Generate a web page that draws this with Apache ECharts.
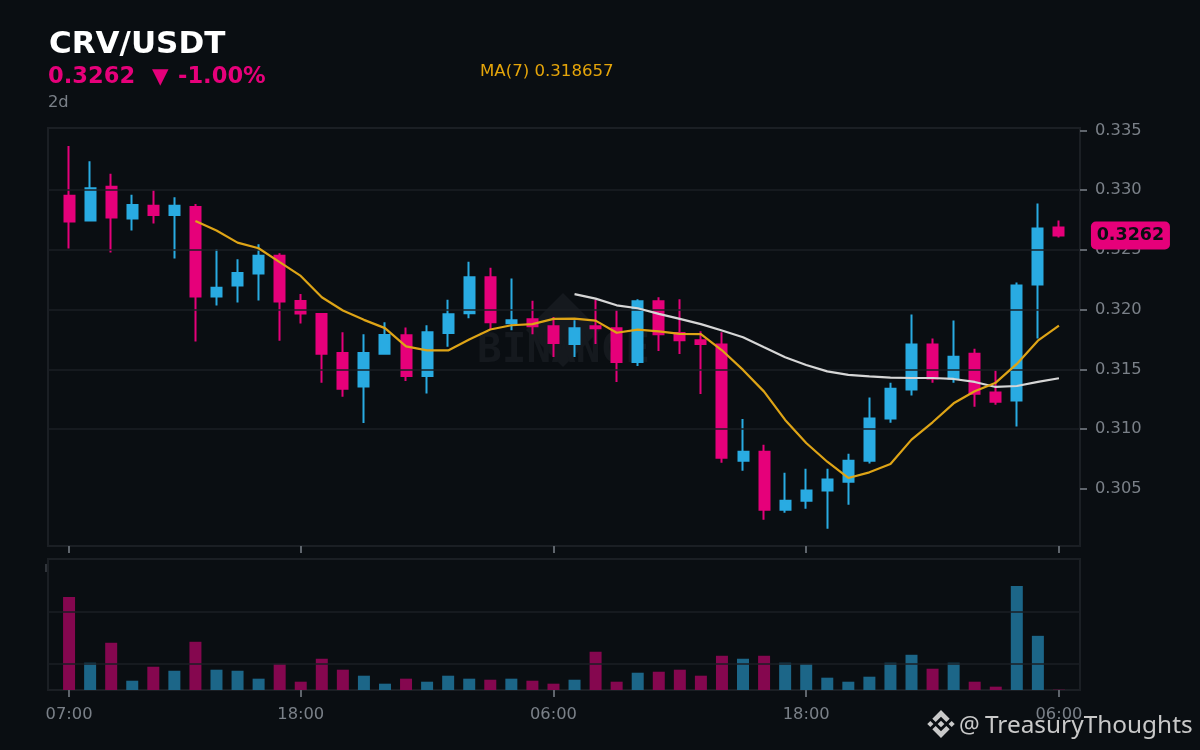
<!DOCTYPE html>
<html>
<head>
<meta charset="utf-8">
<style>html,body{margin:0;padding:0;background:#0a0e12}#c{width:1200px;height:750px}</style>
<script src="https://cdn.jsdelivr.net/npm/echarts@6/dist/echarts.min.js"></script>
</head>
<body>
<div id="c"></div>
<script>
const opens  = [.32953,.32746,.33028,.32763,.32869,.32793,.3286,.32109,.32201,.32302,.3245,.32073,.31964,.31637,.31355,.31631,.31786,.31444,.31803,.31969,.3227,.31886,.31919,.31861,.31711,.31861,.31844,.31561,.3207,.31803,.31744,.31707,.30735,.3081,.30324,.304,.30484,.30559,.30735,.31087,.3133,.31707,.31422,.31631,.31305,.31238,.3221,.32687];
const closes = [.32737,.33017,.32771,.32877,.32793,.32869,.32109,.32182,.32307,.3245,.32067,.31967,.31631,.31338,.31637,.31788,.31444,.31811,.31961,.3227,.31894,.31911,.31861,.3172,.31844,.31844,.31561,.3207,.31794,.31744,.31711,.3076,.3081,.30324,.304,.30484,.30576,.30735,.31087,.31338,.31707,.31422,.31606,.31296,.31229,.32201,.32679,.3262];
const highs  = [.33371,.33243,.33137,.32961,.33,.32941,.32885,.32506,.32422,.32548,.32472,.32131,.31969,.3181,.31793,.31894,.3185,.31869,.32083,.324,.3235,.32261,.32075,.31939,.31911,.32083,.31994,.32086,.32103,.32086,.31819,.3181,.31084,.30869,.30634,.30668,.30668,.30793,.31263,.31388,.31958,.31757,.31908,.31673,.31489,.32226,.32888,.32746];
const lows   = [.32511,.32737,.32478,.32662,.32721,.32427,.31732,.32034,.32059,.32076,.3174,.31883,.31388,.31271,.3105,.31623,.31403,.31297,.31689,.31928,.31833,.31828,.31794,.31603,.31603,.31711,.31394,.31528,.31653,.31628,.31294,.30718,.30651,.3024,.30299,.30333,.30165,.30366,.3071,.31053,.3128,.31388,.31388,.31187,.31204,.3102,.31757,.32603];
const ma7 = [null,null,null,null,null,null,.32743,.32662,.32561,.32514,.32397,.32282,.32103,.31992,.31914,.31845,.31692,.31658,.31658,.3175,.31833,.31869,.31878,.31922,.31925,.31908,.31806,.31833,.31817,.31797,.31794,.31659,.31495,.31313,.31076,.30883,.30726,.3059,.30637,.30707,.30911,.31056,.31215,.31316,.31388,.31545,.3174,.318657];
const ma25 = [null,null,null,null,null,null,null,null,null,null,null,null,null,null,null,null,null,null,null,null,null,null,null,null,.3213,.32092,.32036,.32011,.31964,.31922,.31878,.31825,.31768,.31684,.31601,.31536,.31483,.31453,.31441,.3143,.31427,.31427,.31419,.31394,.31352,.3136,.31394,.31425];
const volumes = [1784,522,905,178,446,369,924,389,369,217,503,159,599,389,274,121,217,159,274,217,197,217,178,121,197,733,159,331,350,389,274,656,599,656,522,503,236,159,255,522,675,408,522,159,64,1994,1038,6];
const hours = ['07:00','08:00','09:00','10:00','11:00','12:00','13:00','14:00','15:00','16:00','17:00','18:00','19:00','20:00','21:00','22:00','23:00','00:00','01:00','02:00','03:00','04:00','05:00','06:00','07:00','08:00','09:00','10:00','11:00','12:00','13:00','14:00','15:00','16:00','17:00','18:00','19:00','20:00','21:00','22:00','23:00','00:00','01:00','02:00','03:00','04:00','05:00','06:00'];
const shownTicks = [0,11,23,35,47];
const volumeGridLines = [500,1500];
const priceTicks = [0.305,0.31,0.315,0.32,0.325,0.33,0.335];
const lastPrice = 0.3262;
const ma7Last = '0.318657';

const PINK='#e6007a', BLUE='#29abe2', VPINK='#85074f', VBLUE='#1c6688';
const BG='#0a0e12', GRID='#1b1f24', TICK='#5f656c', LABEL='#7a8088';

// one empty slot either side, so that the first and last candle sit a full step inside the frame
const cats = ['', ...hours, ''];
const pad = a => [null, ...a, null];
const candle = ['-', ...opens.map((o,i)=>[o,closes[i],lows[i],highs[i]]), '-'];
const vols = [null, ...volumes.map((v,i)=>({value:v,itemStyle:{color:closes[i]<opens[i]?VPINK:VBLUE}})), null];
const showIdx = (i)=>shownTicks.includes(i-1);

const chart = echarts.init(document.getElementById('c'), null, {width:1200,height:750});
const FONT='"DejaVu Sans"';

function txt(x,y,text,size,color,weight,family,z){
  return {type:'text',x,y,z:z||20,silent:true,style:{text,fill:color,font:(weight||'normal')+' '+size+'px '+(family||FONT),textVerticalAlign:'middle',textBaseline:'middle'}};
}
function poly(points,fill,z){return {type:'polygon',z:z,silent:true,shape:{points},style:{fill}};}
function logo(cx,cy,s,fill,z){
  const d=(x,y,r)=>poly([[cx+x,cy+y-r],[cx+x+r,cy+y],[cx+x,cy+y+r],[cx+x-r,cy+y]],fill,z);
  const chevTop=poly([[cx,cy-s],[cx+.62*s,cy-.38*s],[cx+.38*s,cy-.14*s],[cx,cy-.52*s],[cx-.38*s,cy-.14*s],[cx-.62*s,cy-.38*s]],fill,z);
  const chevBot=poly([[cx,cy+s],[cx+.62*s,cy+.38*s],[cx+.38*s,cy+.14*s],[cx,cy+.52*s],[cx-.38*s,cy+.14*s],[cx-.62*s,cy+.38*s]],fill,z);
  return [d(0,0,.24*s),d(-.76*s,0,.22*s),d(.76*s,0,.22*s),chevTop,chevBot];
}

chart.setOption({
  backgroundColor:BG,
  animation:false,
  grid:[
    {left:48,top:128,width:1032,height:418,show:true,borderColor:GRID,borderWidth:2,backgroundColor:'transparent'},
    {left:48,top:559,width:1032,height:131,show:true,borderColor:GRID,borderWidth:2,backgroundColor:'transparent'}
  ],
  xAxis:[
    {type:'category',gridIndex:0,data:cats,boundaryGap:false,axisLine:{show:false},
     axisTick:{show:true,length:7,interval:(i)=>showIdx(i),lineStyle:{color:TICK,width:2}},axisLabel:{show:false},splitLine:{show:false}},
    {type:'category',gridIndex:1,data:cats,boundaryGap:false,axisLine:{show:false},
     axisTick:{show:true,length:7,interval:(i)=>showIdx(i),lineStyle:{color:TICK,width:2}},
     axisLabel:{show:true,interval:(i)=>showIdx(i),color:LABEL,fontSize:16.3,fontFamily:FONT,margin:17},splitLine:{show:false}}
  ],
  yAxis:[
    {type:'value',gridIndex:0,position:'right',scale:true,min:0.3002,max:0.33521,splitNumber:7,z:3,
     axisLine:{show:false},
     axisTick:{show:true,length:7,lineStyle:{color:TICK,width:2},customValues:priceTicks},
     axisLabel:{show:true,color:LABEL,fontSize:16.3,fontFamily:FONT,margin:15,padding:[4,0,0,0],customValues:priceTicks,
       formatter:(v)=>v.toFixed(3)},
     splitLine:{show:true,showMinLine:false,showMaxLine:false,lineStyle:{color:GRID,width:1.5}}},
    {type:'value',gridIndex:1,position:'right',min:0,max:2510,axisLine:{show:false},axisTick:{show:false},axisLabel:{show:false},splitLine:{show:false}}
  ],
  series:[
    {type:'candlestick',name:'CRV/USDT',xAxisIndex:0,yAxisIndex:0,z:2,data:candle,barWidth:10.5,
     itemStyle:{color:BLUE,color0:PINK,borderColor:BLUE,borderColor0:PINK,borderWidth:2}},
    {type:'line',name:'MA(7)',xAxisIndex:0,yAxisIndex:0,z:5,data:pad(ma7),showSymbol:false,smooth:false,connectNulls:false,
     lineStyle:{color:'#dea416',width:2.2},
     markPoint:{silent:true,z:8,animation:false,data:[{coord:[48,lastPrice],
       symbol:'path://M5,0H74a5,5 0 0 1 5,5V23a5,5 0 0 1 -5,5H5a5,5 0 0 1 -5,-5V5a5,5 0 0 1 5,-5z',
       symbolKeepAspect:false,symbolSize:[79,28],symbolOffset:[71.5,0],
       itemStyle:{color:PINK},
       label:{show:true,position:'inside',formatter:String(lastPrice),color:'#0a0e12',fontWeight:'bold',fontSize:17.5,fontFamily:FONT}}]}},
    {type:'line',name:'MA(25)',xAxisIndex:0,yAxisIndex:0,z:4,data:pad(ma25),showSymbol:false,smooth:false,
     lineStyle:{color:'#d6d6d6',width:2.2}},
    {type:'bar',name:'Volume',xAxisIndex:1,yAxisIndex:1,z:2,data:vols,barWidth:12,
     markLine:{silent:true,symbol:'none',animation:false,label:{show:false},lineStyle:{color:GRID,width:1.5,type:'solid'},
       data:volumeGridLines.map(v=>({yAxis:v}))}}
  ],
  graphic:{elements:[
    poly([[563,293],[600,330],[563,367],[526,330]],'#15191e',-1),
    {type:'text',x:563.5,y:351,z:-1,silent:true,style:{text:'BINANCE',fill:'#15191e',font:'bold 41px "DejaVu Sans Mono"',textAlign:'center',textVerticalAlign:'middle',textBaseline:'middle'}},
    txt(49,45,'CRV/USDT',31,'#ffffff','bold'),
    txt(48,77,'0.3262',22.6,PINK,'bold'),
    txt(152,77,'▼',21.5,PINK,'bold'),
    txt(178,77,'-1.00%',22.6,PINK,'bold'),
    txt(48,103,'2d',16.3,LABEL),
    txt(480,72,'MA(7) '+ma7Last,16.6,'#e5a50a'),
    {type:'line',z:1,silent:true,shape:{x1:46,y1:564,x2:46,y2:572},style:{stroke:'#565b62',lineWidth:1}},
    ...logo(941,724,14,'#c9c9c9',19),
    txt(959,726,'@',23,'#c9c9c9','normal','"Noto Sans"'),
    txt(985,726,'TreasuryThoughts',24.4,'#c9c9c9','normal','"Noto Sans"')
  ]}
});
</script>
</body>
</html>
